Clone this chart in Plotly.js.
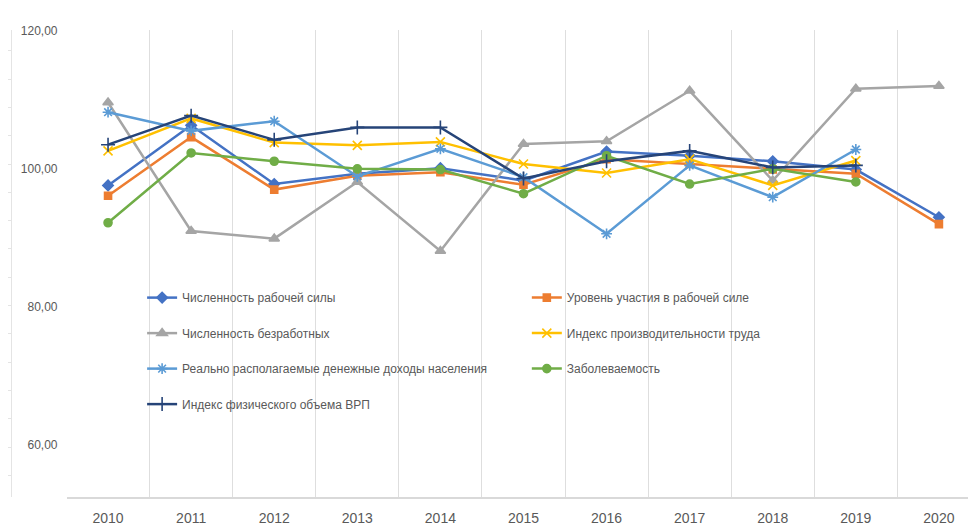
<!DOCTYPE html>
<html>
<head>
<meta charset="utf-8">
<script src="https://cdn.plot.ly/plotly-3.0.1.min.js"></script>
<style>html,body{margin:0;padding:0;background:#fff;}#chart{width:968px;height:525px;}</style>
</head>
<body>
<div id="chart"></div>
<script>
// ---- data ----
const years = ['2010','2011','2012','2013','2014','2015','2016','2017','2018','2019','2020'];

const laborForce      = [97.6, 106.3, 97.8, 99.3, 100.1, 98.3, 102.5, 101.9, 101.1, 99.9, 93.0];
const participation   = [96.1, 104.6, 97.0, 99.0, 99.5, 97.7, 101.4, 100.7, 99.9, 99.3, 92.0];
const unemployed      = [109.6, 91.0, 89.9, 98.1, 88.1, 103.6, 104.0, 111.3, 98.3, 111.6, 112.0];
const productivity    = [102.6, 107.3, 103.8, 103.4, 103.9, 100.7, 99.4, 101.4, 97.6, 101.2];
const realIncome      = [108.2, 105.5, 106.9, 98.9, 102.9, 98.8, 90.6, 100.5, 95.9, 102.8];
const morbidity       = [92.2, 102.3, 101.1, 100.0, 99.9, 96.4, 101.9, 97.8, 100.0, 98.1];
const grpVolume       = [103.5, 107.7, 104.2, 106.0, 106.0, 98.6, 101.1, 102.6, 100.2, 100.5];

const names = [
  'Численность рабочей силы',
  'Уровень участия в рабочей силе',
  'Численность безработных',
  'Индекс производительности труда',
  'Реально располагаемые денежные доходы населения',
  'Заболеваемость',
  'Индекс физического объема ВРП'
];
const yTicks = [60, 80, 100, 120];

// ---- styles ----
const FONT = 'Liberation Sans, Arial, sans-serif';
const series = [
  {y: laborForce,    color: '#4472C4', symbol: 'diamond',         size: 8,  legend: 'legend'},
  {y: participation, color: '#ED7D31', symbol: 'square',          size: 7,  legend: 'legend2'},
  {y: unemployed,    color: '#A5A5A5', symbol: 'triangle-up',     size: 9,  legend: 'legend'},
  {y: productivity,  color: '#FFC000', symbol: 'x-thin-open',     size: 9,  legend: 'legend2'},
  {y: realIncome,    color: '#5B9BD5', symbol: 'asterisk-open',   size: 9,  legend: 'legend'},
  {y: morbidity,     color: '#70AD47', symbol: 'circle',          size: 8,  legend: 'legend2'},
  {y: grpVolume,     color: '#264478', symbol: 'cross-thin-open', size: 10, legend: 'legend'}
];

const traces = series.map((s, i) => ({
  type: 'scatter',
  mode: 'lines+markers',
  name: names[i],
  x: years.slice(0, s.y.length),
  y: s.y,
  legend: s.legend,
  legendgroup: 'g' + i,
  line: {color: s.color, width: 2.5},
  marker: {symbol: s.symbol, size: s.size, color: s.color, line: {color: s.color, width: 1.6}}
}));

const legendCommon = {
  orientation: 'v',
  bgcolor: 'rgba(0,0,0,0)',
  borderwidth: 0,
  font: {family: FONT, size: 12, color: '#595959'},
  yanchor: 'top',
  xanchor: 'left',
  tracegroupgap: 16.5,
  itemwidth: 30
};

const layout = {
  width: 968,
  height: 525,
  margin: {l: 11, r: 0, t: 30, b: 28},
  paper_bgcolor: '#ffffff',
  plot_bgcolor: '#ffffff',
  separators: ', ',
  showlegend: true,
  font: {family: FONT, color: '#595959'},
  xaxis: {
    type: 'category',
    domain: [0.058, 1],
    range: [-0.5, 10.35],
    tickson: 'boundaries',
    showgrid: true,
    gridcolor: '#DEDEDE',
    gridwidth: 1,
    showline: true,
    linecolor: '#D9D9D9',
    linewidth: 1.5,
    ticks: '',
    tickfont: {family: FONT, size: 14, color: '#595959'},
    ticklabelstandoff: 8,
    zeroline: false,
    fixedrange: true
  },
  yaxis: {
    range: [52.5, 120.1],
    tickvals: yTicks,
    tickformat: '.2f',
    showgrid: false,
    zeroline: false,
    showline: false,
    ticks: '',
    tickfont: {family: FONT, size: 12, color: '#595959'},
    ticklabelstandoff: 8,
    fixedrange: true
  },
  yaxis2: {
    overlaying: 'y',
    anchor: 'free',
    position: 0,
    side: 'left',
    range: [52.5, 120.1],
    tick0: 59.7,
    dtick: 4.1,
    showticklabels: false,
    showgrid: false,
    zeroline: false,
    showline: true,
    linecolor: '#E4E4E4',
    linewidth: 1,
    ticks: 'outside',
    ticklen: 3,
    tickcolor: '#E4E4E4',
    fixedrange: true
  },
  legend: Object.assign({}, legendCommon, {x: 0.137, y: 0.458}),
  legend2: Object.assign({}, legendCommon, {x: 0.539, y: 0.458})
};

// invisible helper trace so that yaxis2 is drawn
traces.push({type: 'scatter', x: [years[0]], y: [null], yaxis: 'y2', showlegend: false, hoverinfo: 'skip'});

Plotly.newPlot('chart', traces, layout, {displayModeBar: false, staticPlot: true});
</script>
</body>
</html>
